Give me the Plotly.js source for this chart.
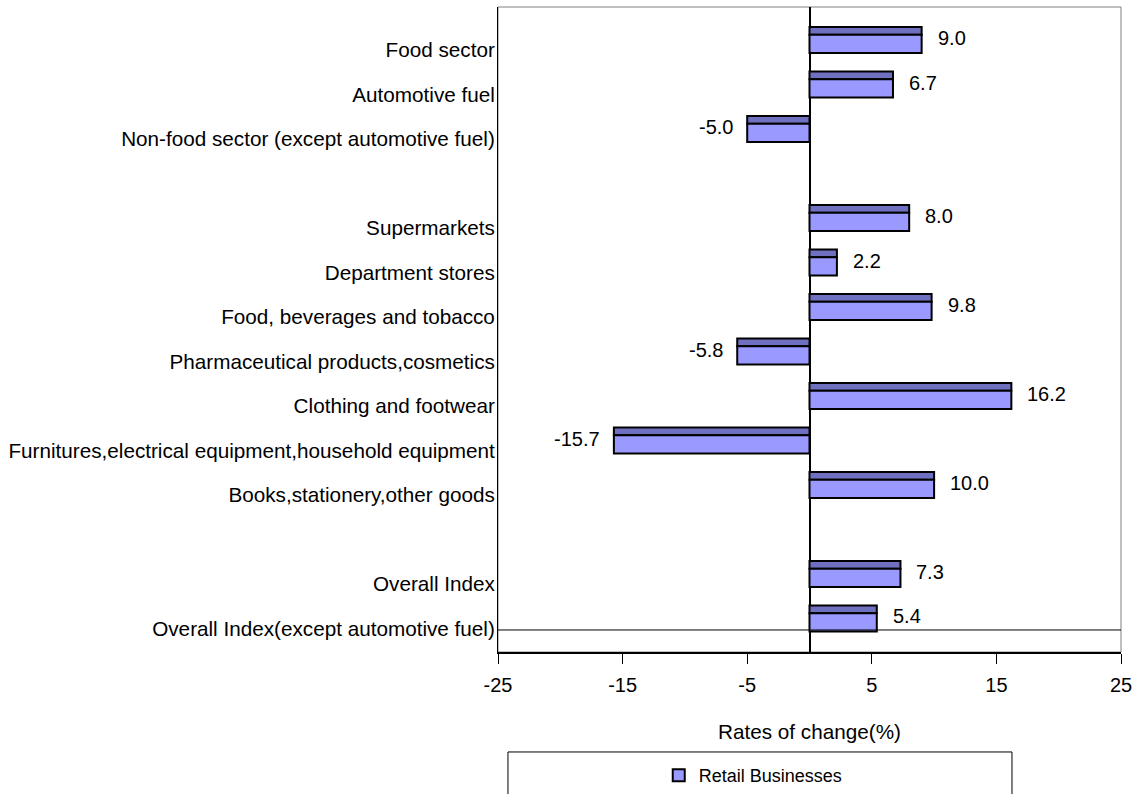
<!DOCTYPE html>
<html>
<head>
<meta charset="utf-8">
<script src="https://cdn.plot.ly/plotly-3.0.1.min.js"></script>
<style>html,body{margin:0;padding:0;background:#fff;} #chart{width:1137px;height:794px;}</style>
</head>
<body>
<div id="chart"></div>
<script>
const categories = [
  "Food sector",
  "Automotive fuel",
  "Non-food sector (except automotive fuel)",
  "Supermarkets",
  "Department stores",
  "Food, beverages and tobacco",
  "Pharmaceutical products,cosmetics",
  "Clothing and footwear",
  "Furnitures,electrical equipment,household equipment",
  "Books,stationery,other goods",
  "Overall Index",
  "Overall Index(except automotive fuel)"
];
const values = [9.0, 6.7, -5.0, 8.0, 2.2, 9.8, -5.8, 16.2, -15.7, 10.0, 7.3, 5.4];
const categoryOrder = [
  "Food sector",
  "Automotive fuel",
  "Non-food sector (except automotive fuel)",
  " ",
  "Supermarkets",
  "Department stores",
  "Food, beverages and tobacco",
  "Pharmaceutical products,cosmetics",
  "Clothing and footwear",
  "Furnitures,electrical equipment,household equipment",
  "Books,stationery,other goods",
  "  ",
  "Overall Index",
  "Overall Index(except automotive fuel)"
];
const xTicks = [-25, -15, -5, 5, 15, 25];
const seriesName = "Retail Businesses";

const FONT = "Liberation Sans, Arial, sans-serif";

const topStrip = {
  type: "bar", orientation: "h",
  x: values, y: categories,
  offset: -0.29, width: 0.17,
  marker: {color: "#7070c0", line: {color: "#000", width: 2}},
  showlegend: false, hoverinfo: "skip"
};
const mainBar = {
  type: "bar", orientation: "h",
  name: seriesName,
  x: values, y: categories,
  offset: -0.12, width: 0.41,
  marker: {color: "#9999ff", line: {color: "#000", width: 2}},
  showlegend: true, hoverinfo: "skip"
};

const annotations = values.map((v, i) => ({
  x: v, y: categories[i], xref: "x", yref: "y",
  text: v.toFixed(1), showarrow: false,
  xanchor: v >= 0 ? "left" : "right",
  xshift: v >= 0 ? 14 : -12, yshift: 2,
  font: {family: FONT, size: 20, color: "#000"}
}));

const layout = {
  width: 1137, height: 794,
  margin: {l: 498, r: 16, t: 7, b: 142},
  paper_bgcolor: "#fff", plot_bgcolor: "#fff",
  barmode: "overlay",
  font: {family: FONT, size: 20, color: "#000"},
  xaxis: {
    automargin: false,
    range: [-25, 25], tickvals: xTicks, ticktext: xTicks.map(String),
    showgrid: false, zeroline: true, zerolinecolor: "#000", zerolinewidth: 2,
    showline: true, linecolor: "#000", linewidth: 1.5,
    ticks: "outside", ticklen: 10, tickwidth: 1, tickcolor: "#000",
    ticklabelstandoff: 4,
    tickfont: {family: FONT, size: 20, color: "#000"},
    title: {text: "Rates of change(%)", font: {family: FONT, size: 20.7, color: "#000"}, standoff: 30}
  },
  yaxis: {
    automargin: false,
    type: "category", categoryorder: "array", categoryarray: categoryOrder,
    range: [13.753, -0.742],
    showgrid: false, zeroline: false,
    showline: true, linecolor: "#000", linewidth: 1,
    ticks: "", ticklabelshift: -10, ticklabelstandoff: -2,
    tickfont: {family: FONT, size: 20.7, color: "#000"}
  },
  showlegend: true,
  legend: {
    xref: "paper", yref: "container",
    x: 0.258, y: 0.0466, xanchor: "left", yanchor: "top",
    bgcolor: "rgba(0,0,0,0)", borderwidth: 0,
    font: {family: FONT, size: 18, color: "#000"}
  },
  annotations: annotations,
  shapes: [
    {type: "rect", xref: "paper", yref: "paper", x0: 0, x1: 1, y0: 0, y1: 1,
     line: {color: "#808080", width: 1}, layer: "below"},
    {type: "line", xref: "paper", yref: "y", x0: 0, x1: 1, y0: 13.258, y1: 13.258,
     line: {color: "#000", width: 1}},
    {type: "rect", xref: "paper", yref: "paper", x0: 0.016, x1: 0.825, y0: -0.155, y1: -0.24,
     line: {color: "#000", width: 1}}
  ]
};

Plotly.newPlot("chart", [topStrip, mainBar], layout, {staticPlot: true, displayModeBar: false});
</script>
</body>
</html>
